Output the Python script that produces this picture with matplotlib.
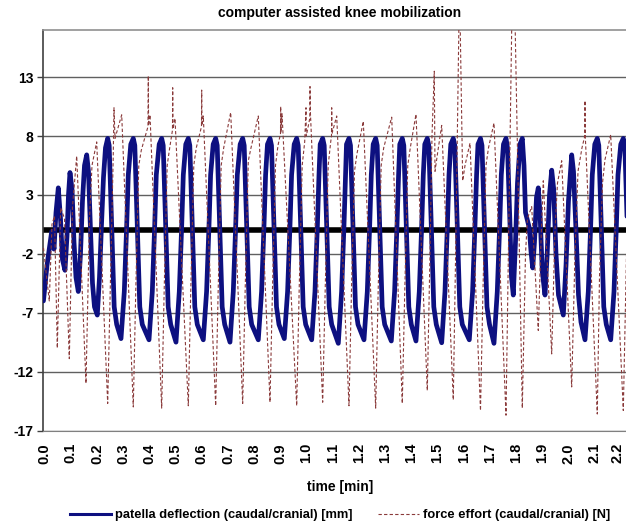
import matplotlib
matplotlib.use("Agg")
import matplotlib.pyplot as plt
from matplotlib.lines import Line2D
from matplotlib.transforms import ScaledTranslation

plt.rcParams['font.family'] = ['Liberation Sans', 'DejaVu Sans']
plt.rcParams['font.weight'] = 'bold'

title = "computer assisted knee mobilization"
xlabel = "time [min]"
series_names = ["patella deflection (caudal/cranial) [mm]", "force effort (caudal/cranial) [N]"]
y_ticks = [-17, -12, -7, -2, 3, 8, 13]
x_ticks = [round(0.1 * i, 1) for i in range(23)]
x_tick_labels = [f"{v:.1f}" for v in x_ticks]

# patella deflection [mm] (time in minutes, value)
patella_t = [
    -0.004, 0.0095, 0.0275, 0.0363, 0.0439, 0.0527, 0.0611, 0.0687, 0.0782, 0.0859,
    0.0916, 0.0973, 0.1050, 0.1126, 0.1202, 0.1290, 0.1374, 0.1450, 0.1527, 0.1611,
    0.1679, 0.1756, 0.1832, 0.1908, 0.2015, 0.2099, 0.2176, 0.2252, 0.2328,
    0.2412, 0.2469, 0.2565, 0.2660, 0.2756, 0.2920, 0.3046, 0.3137, 0.3198, 0.3294,
    0.3389, 0.3447, 0.3542, 0.3637, 0.3733, 0.3989, 0.4115, 0.4206, 0.4267, 0.4378,
    0.4473, 0.4531, 0.4626, 0.4721, 0.4817, 0.5019, 0.5145, 0.5237, 0.5298, 0.5393,
    0.5489, 0.5546, 0.5641, 0.5737, 0.5832, 0.6061, 0.6187, 0.6279, 0.6340, 0.6439,
    0.6534, 0.6592, 0.6687, 0.6782, 0.6878, 0.7080, 0.7206, 0.7298, 0.7359, 0.7469,
    0.7565, 0.7622, 0.7718, 0.7813, 0.7908, 0.8160, 0.8286, 0.8378, 0.8439, 0.8511,
    0.8607, 0.8664, 0.8760, 0.8855, 0.8950, 0.9153, 0.9279, 0.9370, 0.9431, 0.9531,
    0.9626, 0.9683, 0.9779, 0.9874, 0.9969, 1.0198, 1.0324, 1.0416, 1.0477, 1.0523,
    1.0618, 1.0676, 1.0771, 1.0866, 1.0962, 1.1214, 1.1340, 1.1431, 1.1492, 1.1527,
    1.1622, 1.1679, 1.1775, 1.1870, 1.1966, 1.2195, 1.2321, 1.2412, 1.2473, 1.2546,
    1.2641, 1.2698, 1.2794, 1.2889, 1.2985, 1.3237, 1.3363, 1.3454, 1.3515, 1.3561,
    1.3656, 1.3714, 1.3809, 1.3905, 1.4000, 1.4179, 1.4305, 1.4397, 1.4458, 1.4515,
    1.4611, 1.4668, 1.4763, 1.4859, 1.4954, 1.5160, 1.5286, 1.5378, 1.5439, 1.5508,
    1.5603, 1.5660, 1.5756, 1.5851, 1.5947, 1.6214, 1.6340, 1.6431, 1.6492, 1.6546,
    1.6641, 1.6698, 1.6794, 1.6889, 1.6985, 1.7156, 1.7282, 1.7374, 1.7435, 1.7519,
    1.7615, 1.7672, 1.7767, 1.7824, 1.7893, 1.7977, 1.8053, 1.8149,
    1.8237, 1.8302, 1.8359, 1.8435, 1.8504, 1.8569, 1.8634, 1.8702, 1.8779,
    1.8847, 1.8912, 1.9000, 1.9103, 1.9187, 1.9275,
    1.9359, 1.9435, 1.9523, 1.9618, 1.9802, 1.9905, 2.0000,
    2.0122, 2.0191, 2.0286, 2.0382, 2.0477, 2.0630, 2.0756, 2.0847, 2.0908, 2.1004,
    2.1099, 2.1156, 2.1252, 2.1347, 2.1443, 2.1611, 2.1737, 2.1828, 2.1889, 2.1996,
    2.2092, 2.2149, 2.2244,
]
patella_v = [
    -6.0, -3.0, -0.1, -1.6, 1.5, 3.6, 1.0, -2.5, -3.4, -0.5,
    3.0, 4.9, 3.5, -1.0, -4.0, -5.2, -2.0, 2.5, 5.5, 6.4,
    5.0, 0.0, -4.5, -6.5, -7.2, -4.0, 0.5, 4.5, 7.0,
    7.8, 7.2, 0.4, -6.5, -8.0, -9.2, -5.2, 0.4, 4.7, 7.3,
    7.8, 7.2, 0.4, -6.5, -8.0, -9.3, -5.2, 0.4, 4.7, 7.3,
    7.8, 7.2, 0.4, -6.5, -8.0, -9.5, -5.2, 0.4, 4.7, 7.3,
    7.8, 7.2, 0.4, -6.5, -8.0, -9.3, -5.2, 0.4, 4.7, 7.3,
    7.8, 7.2, 0.4, -6.5, -8.0, -9.5, -5.2, 0.4, 4.7, 7.3,
    7.8, 7.2, 0.4, -6.5, -8.0, -9.3, -5.2, 0.4, 4.7, 7.3,
    7.8, 7.2, 0.4, -6.5, -8.0, -9.2, -5.2, 0.4, 4.7, 7.3,
    7.8, 7.2, 0.4, -6.5, -8.0, -9.3, -5.2, 0.4, 4.7, 7.3,
    7.8, 7.2, 0.4, -6.5, -8.0, -9.6, -5.2, 0.4, 4.7, 7.3,
    7.8, 7.2, 0.4, -6.5, -8.0, -9.3, -5.2, 0.4, 4.7, 7.3,
    7.8, 7.2, 0.4, -6.5, -8.0, -9.4, -5.2, 0.4, 4.7, 7.3,
    7.8, 7.2, 0.4, -6.5, -8.0, -9.4, -5.2, 0.4, 4.7, 7.3,
    7.8, 7.2, 0.4, -6.5, -8.0, -9.55, -5.2, 0.4, 4.7, 7.3,
    7.8, 7.2, 0.4, -6.5, -8.0, -9.3, -5.2, 0.4, 4.7, 7.3,
    7.8, 7.2, 0.4, -6.5, -8.0, -9.6, -5.2, 0.4, 4.7, 7.3,
    7.8, 7.0, 0.5, -4.0, -5.5, -1.0, 4.0, 7.3,
    7.8, 5.5, 1.5, 0.8, 0.2, -1.8, -3.2, -1.0, 2.8,
    3.6, 1.5, -3.5, -5.5, -2.0, 3.0,
    5.1, 3.5, -2.0, -5.5, -7.2, -3.0, 2.5,
    6.4, 5.0, 0.0, -5.5, -7.8, -9.3, -5.2, 0.4, 4.7, 7.3,
    7.8, 7.2, 0.4, -6.5, -8.0, -9.3, -5.2, 0.4, 4.7, 7.3,
    7.8, 7.2, 0.4,
]

# force effort [N] (time in minutes, value)
force_t = [
    -0.0038, 0.0057, 0.0183, 0.0286, 0.0382, 0.0489, 0.0618, 0.0763, 0.0947, 0.1069,
    0.1229, 0.1584, 0.1718, 0.1813, 0.1992,
    0.2412, 0.2508, 0.2622, 0.2653, 0.2691, 0.2947,
    0.3389, 0.3485, 0.3599, 0.3695, 0.3950, 0.3962, 0.3973, 0.4027,
    0.4473, 0.4569, 0.4683, 0.4779, 0.4885, 0.4893, 0.4905, 0.4981,
    0.5489, 0.5584, 0.5698, 0.5794, 0.5992, 0.6000, 0.6011, 0.6061,
    0.6534, 0.6630, 0.6744, 0.6840, 0.7107,
    0.7565, 0.7660, 0.7779, 0.7882, 0.8160,
    0.8607, 0.8702, 0.8817, 0.8912, 0.9008, 0.9015, 0.9027, 0.9065,
    0.9626, 0.9721, 0.9836, 0.9931, 0.9981, 0.9992, 1.0126, 1.0134, 1.0149,
    1.0618, 1.0714, 1.0828, 1.0924, 1.0954, 1.0962, 1.0973, 1.1153,
    1.1622, 1.1718, 1.1832, 1.1927, 1.2168,
    1.2641, 1.2737, 1.2851, 1.2947, 1.3252,
    1.3656, 1.3752, 1.3866, 1.3962, 1.4179,
    1.4611, 1.4714, 1.4790, 1.4878, 1.4905, 1.5000, 1.5160,
    1.5603, 1.5706, 1.5840, 1.5962, 1.6050, 1.6241,
    1.6641, 1.6737, 1.6851, 1.6947, 1.7156,
    1.7615, 1.7891,
    1.8237, 1.8359, 1.8435, 1.8595,
    1.8847, 1.8950, 1.9038,
    1.9359, 1.9485, 1.9580, 1.9740,
    2.0122, 2.0248, 2.0363, 2.0515, 2.0622, 2.0630, 2.0641,
    2.1099, 2.1183, 2.1298, 2.1393, 2.1611,
    2.2092, 2.2195, 2.2271,
]
force_v = [
    -1.5, -3.5, -6.0, 0.5, 1.2, -10.0, 1.9, 1.0, -10.9, 2.0,
    6.3, -13.0, 1.0, 5.5, 7.5,
    -14.7, -5.0, 6.1, 10.4, 7.8, 9.8,
    -15.0, -5.0, 5.5, 6.8, 8.8, 13.1, 8.9, 9.8,
    -15.1, -5.0, 5.5, 7.0, 8.5, 12.1, 8.6, 9.5,
    -14.9, -5.0, 5.5, 7.0, 8.8, 11.9, 8.9, 9.7,
    -14.9, -5.0, 5.5, 7.0, 10.0,
    -14.7, -5.0, 5.9, 7.0, 9.7,
    -14.6, -5.0, 5.5, 7.2, 8.2, 10.5, 8.3, 9.9,
    -14.9, -5.0, 5.5, 7.5, 10.4, 8.0, 9.5, 12.2, 10.0,
    -14.6, -5.0, 5.5, 7.5, 8.0, 10.4, 8.2, 9.7,
    -14.9, -5.0, 5.0, 6.5, 9.25,
    -15.1, -5.0, 5.5, 7.0, 9.6,
    -14.7, -5.0, 5.5, 7.0, 9.85,
    -13.6, -2.0, 8.0, 13.5, 5.0, 6.5, 8.9,
    -14.4, 0.0, 21.0, 4.2, 5.5, 7.4,
    -15.3, -5.0, 5.5, 7.0, 9.1,
    -15.7, 26.0,
    -15.1, -2.0, 1.0, 2.0,
    -8.5, -1.0, 4.2,
    -10.5, 0.0, 4.0, 5.9,
    -13.3, -2.0, 5.0, 7.0, 8.0, 11.0, 8.0,
    -15.6, -4.0, 4.0, 6.0, 8.1,
    -15.3, -4.0, 4.0,
]

W, H = 626, 522
fig = plt.figure(figsize=(W / 100, H / 100), dpi=100)
ax = fig.add_axes([43 / W, 91.5 / H, 583 / W, 400.5 / H])

ax.axhline(0, color='black', lw=4.0, zorder=1.5)
l1, = ax.plot(patella_t, patella_v, color='#0d1080', lw=3.4, solid_joinstyle='round',
              solid_capstyle='round', zorder=3)
l2, = ax.plot(force_t, force_v, color='#8a3a3a', lw=0.8, linestyle=(0, (3, 2)), zorder=4)

ax.set_xlim(-0.0057, 2.2195)
ax.set_ylim(-17, 17)
ax.set_yticks(y_ticks)
ax.set_yticklabels([str(v) for v in y_ticks], fontsize=10, fontweight='bold')
ax.set_xticks(x_ticks)
ax.set_xticklabels(x_tick_labels, rotation=90, fontsize=10.5, fontweight='bold')
ax.tick_params(axis='y', length=4, width=1, color='#404040', pad=3)
ax.tick_params(axis='x', length=0, pad=9)
ax.yaxis.grid(True, color='#606060', lw=1.0)
ax.set_axisbelow(True)
last = ax.get_xticklabels()[-1]
last.set_transform(last.get_transform() + ScaledTranslation(-3 / 100, 0, fig.dpi_scale_trans))

ax.spines['left'].set_color('#404040')
ax.spines['left'].set_linewidth(1.2)
ax.spines['bottom'].set_color('#808080')
ax.spines['top'].set_color('#909090')
ax.spines['top'].set_linewidth(1.2)
ax.spines['right'].set_visible(False)

fig.text(339.5 / W, 1 - 13 / H, title, ha='center', va='center', fontsize=10, fontweight='bold')
fig.text(340 / W, 1 - 487 / H, xlabel, ha='center', va='center', fontsize=10, fontweight='bold')

h1 = Line2D([], [], color='#0d1080', lw=2.2)
h2 = Line2D([], [], color='#8a3a3a', lw=0.8, linestyle=(0, (3, 2)))
fig.legend([h1, h2], series_names, loc='center', bbox_to_anchor=(340 / W, 1 - 515 / H),
           ncol=2, frameon=False, handlelength=3.2, handletextpad=0.3, columnspacing=2.0,
           prop={'size': 9.3, 'weight': 'bold'}, borderaxespad=0, borderpad=0)

fig.savefig("out.png", dpi=100)
